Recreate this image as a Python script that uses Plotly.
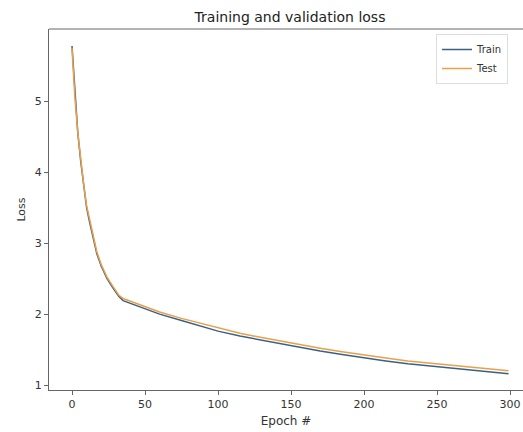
import plotly.graph_objects as go

epochs = [0, 2, 4, 6, 8, 10, 12, 14, 17, 20, 24, 28, 32, 35, 40, 50, 60, 75, 90,
          100, 115, 130, 150, 170, 185, 200, 215, 230, 250, 270, 285, 299]
train_loss = [5.78, 5.10, 4.55, 4.15, 3.80, 3.50, 3.30, 3.10, 2.85, 2.68, 2.50, 2.37,
              2.25, 2.19, 2.15, 2.07, 2.00, 1.91, 1.82, 1.76, 1.69, 1.63, 1.55, 1.48,
              1.43, 1.38, 1.34, 1.30, 1.26, 1.22, 1.19, 1.16]
test_loss = [5.75, 5.05, 4.55, 4.17, 3.83, 3.53, 3.33, 3.13, 2.88, 2.70, 2.52, 2.39,
             2.27, 2.22, 2.18, 2.10, 2.03, 1.94, 1.86, 1.80, 1.73, 1.67, 1.59, 1.52,
             1.47, 1.42, 1.38, 1.34, 1.30, 1.26, 1.23, 1.20]

x_ticks = [0, 50, 100, 150, 200, 250, 300]
y_ticks = [1, 2, 3, 4, 5]

fig = go.Figure()
fig.add_trace(go.Scatter(x=epochs, y=train_loss, mode="lines", name="Train",
                         line=dict(color="#3b6182", width=1.5)))
fig.add_trace(go.Scatter(x=epochs, y=test_loss, mode="lines", name="Test",
                         line=dict(color="#e8a04a", width=1.5)))

axis_common = dict(showgrid=False, zeroline=False, showline=True, linecolor="#666",
                   linewidth=1, ticks="outside", ticklen=4, tickcolor="#666",
                   tickfont=dict(family="DejaVu Sans", size=11, color="#333"))

fig.update_layout(
    width=523, height=432,
    margin=dict(l=49, r=0, t=29, b=42),
    paper_bgcolor="white", plot_bgcolor="white",
    title=dict(text="Training and validation loss", x=(290 / 523), xanchor="center",
               y=1 - 17 / 432, yanchor="middle",
               font=dict(family="DejaVu Sans", size=14, color="#222")),
    xaxis=dict(range=[-15.75, 308.9], tickvals=x_ticks,
               title=dict(text="Epoch #", standoff=6,
                          font=dict(family="DejaVu Sans", size=12, color="#333")),
               mirror=False, **axis_common),
    yaxis=dict(range=[0.93, 6.02], tickvals=y_ticks,
               title=dict(text="Loss", standoff=6,
                          font=dict(family="DejaVu Sans", size=11, color="#333")),
               **axis_common),
    legend=dict(x=(436 - 49) / 474, y=1 - 5 / 361, xanchor="left", yanchor="top",
                bgcolor="rgba(255,255,255,0.8)", bordercolor="#ddd", borderwidth=1,
                font=dict(family="DejaVu Sans", size=10, color="#333"),
                tracegroupgap=0, itemwidth=30),
    showlegend=True,
)
fig.add_shape(type="line", xref="paper", yref="paper", x0=0, x1=1, y0=1, y1=1,
              line=dict(color="#666", width=1))

fig.write_html("out.html")
